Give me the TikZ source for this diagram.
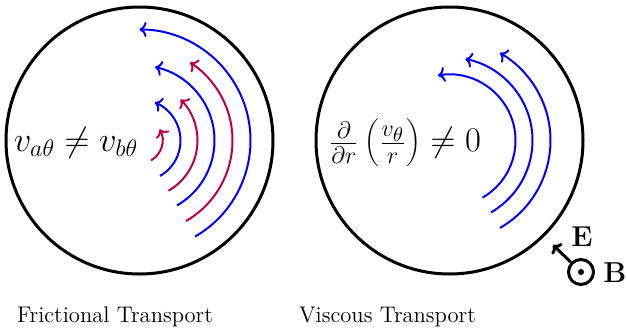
\documentclass[tikz,border=0pt]{standalone}
\usetikzlibrary{arrows.meta,calc}
\begin{document}
\begin{tikzpicture}[x=0.5pt,y=0.5pt,
  rim/.style={line width=1.5pt},
  flowb/.style={line width=1pt,blue,-{To[length=3.5pt,width=7.5pt]}},
  flowr/.style={line width=1pt,purple,-{To[length=3.5pt,width=7.5pt]}},
  lbl/.style={inner sep=0pt},
  captxt/.style={inner sep=0pt,anchor=base,font=\fontsize{11.3}{13}\selectfont}]
\useasboundingbox (0,0) rectangle (627,334);
% left circle
\coordinate (cl) at (139.5,193.5);
\draw[rim] (cl) circle[radius=133.5];
\foreach \r/\e in {111/90,75/78,41/68}
  \draw[flowb] ($(cl)+(-60:\r)$) arc[start angle=-60,end angle=\e,radius=\r];
\foreach \r/\e in {93/57,58/45,23/29}
  \draw[flowr] ($(cl)+(-60:\r)$) arc[start angle=-60,end angle=\e,radius=\r];
\node[lbl] (ml) at (76,191) {\LARGE $v_{a\theta}\neq v_{b\theta}$};
% right circle
\coordinate (cr) at (449.5,193.5);
\draw[rim] (cr) circle[radius=133.5];
\foreach \r/\e in {101/60,83/79,66/100}
  \draw[flowb] ($(cr)+(-60:\r)$) arc[start angle=-60,end angle=\e,radius=\r];
\node[lbl] (mr) at (405,191) {\LARGE $\frac{\partial}{\partial r}\left(\frac{v_\theta}{r}\right)\neq 0$};
% E and B
\node[circle,draw,line width=1.5pt,minimum size=12.5pt,inner sep=0pt] (bc) at (581,62) {};
\fill (bc.center) circle[radius=3];
\coordinate (et) at (553,89);
\draw[line width=1.5pt,-{To[length=3.5pt,width=7.5pt]}] (bc) -- (et);
\node[lbl] (E) at (582,97) {\Large$\mathbf{E}$};
\node[lbl] (B) at (615,61) {\Large$\mathbf{B}$};
% captions
\node[captxt] (c1) at (115,12) {Frictional Transport};
\node[captxt] (c2) at (387.5,12) {Viscous Transport};
\end{tikzpicture}
\end{document}
